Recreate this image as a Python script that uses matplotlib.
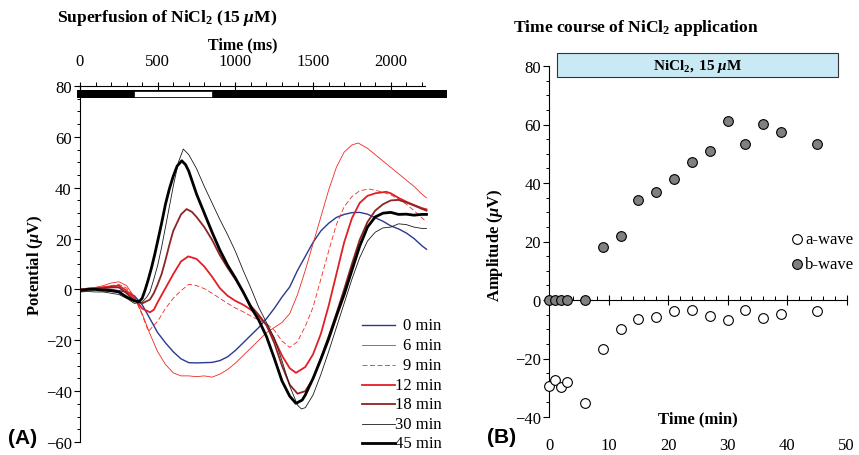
import matplotlib
matplotlib.use('Agg')
import matplotlib.pyplot as plt
from matplotlib.patches import Rectangle
from matplotlib.ticker import MultipleLocator, FixedLocator

plt.rcParams['font.family'] = ['Liberation Serif', 'DejaVu Serif']
plt.rcParams['mathtext.fontset'] = 'custom'
plt.rcParams['mathtext.rm'] = 'Liberation Serif'
plt.rcParams['mathtext.it'] = 'Liberation Serif:italic'
plt.rcParams['mathtext.bf'] = 'Liberation Serif:bold'
plt.rcParams['mathtext.bfit'] = 'Liberation Serif:bold:italic'

# ---------------- Panel A data (time in ms, potential in uV) ----------------
t_0min = [0, 50, 100, 150, 200, 250, 300, 350, 400, 450, 500, 550, 600, 650, 700, 750, 800, 850, 900, 950,
          1000, 1050, 1100, 1150, 1200, 1250, 1300, 1350, 1400, 1450, 1500, 1550, 1600, 1650, 1700, 1750,
          1800, 1850, 1900, 1950, 2000, 2050, 2100, 2150, 2200, 2230]
v_0min = [0, 0.3, 0.5, 0.3, 0, -0.5, -1, -2.5, -6, -11.5, -17, -21, -24.5, -27.3, -28.8, -28.9, -28.8, -28.7, -28, -26.5,
          -24, -21, -18, -15, -11.5, -7.5, -3, 1, 7.5, 13, 18.5, 23, 26, 28.3, 29.5, 30.2,
          30.3, 29.6, 28.2, 26.8, 25, 23.8, 22.2, 20, 17.2, 15.8]

t_6min = [0, 50, 100, 150, 200, 250, 300, 350, 400, 450, 500, 550, 600, 650, 700, 750, 800, 850, 900, 950,
          1000, 1050, 1100, 1150, 1200, 1250, 1300, 1350, 1400, 1450, 1500, 1550, 1600, 1650, 1700, 1750,
          1790, 1850, 1900, 1950, 2000, 2050, 2100, 2150, 2200, 2230]
v_6min = [0, 0.5, 0.8, 1.5, 2.5, 3, 1.5, -3, -9.5, -17.5, -24.5, -29.5, -32.8, -34, -34, -34.3, -34, -34.5, -33.3, -31.5,
          -29, -26, -23, -20, -17, -15, -13, -9.5, -2, 7.5, 18, 28.5, 39, 48, 54, 56.8,
          57.6, 55.5, 53, 50.5, 48, 45.5, 43, 40.5, 37.5, 36]

t_9min = [0, 50, 100, 150, 200, 250, 300, 350, 400, 440, 500, 550, 600, 650, 700, 750, 800, 850, 900, 950,
          1000, 1050, 1100, 1150, 1200, 1250, 1300, 1350, 1400, 1450, 1500, 1550, 1600, 1650, 1700, 1750,
          1800, 1860, 1900, 1950, 2000, 2050, 2100, 2150, 2200, 2230]
v_9min = [0, 0.3, 0.5, 1, 1.5, 2, 0.5, -3, -10, -16.5, -12.5, -7.5, -3.5, -0.5, 2, 1.5, 0.3, -1.5, -3.5, -5.5,
          -7.3, -8.8, -10.5, -12, -13.5, -16, -20.3, -22.8, -20.5, -14.5, -7, 4, 15, 25.5, 32.5, 36.5,
          38.8, 39.5, 39, 38.2, 37.2, 35.5, 33.5, 31, 28.2, 26.5]

t_12min = [0, 50, 100, 150, 200, 250, 300, 350, 400, 450, 475, 500, 550, 600, 650, 697, 750, 800, 850, 900, 950,
           1000, 1050, 1100, 1150, 1200, 1250, 1300, 1350, 1390, 1450, 1500, 1550, 1600, 1650, 1700, 1750,
           1800, 1850, 1900, 1970, 2000, 2050, 2100, 2150, 2200, 2230]
v_12min = [0, 0.3, 0.5, 0.8, 1.2, 1.5, -0.5, -3.5, -7.5, -9, -8, -5, 0.5, 6, 11, 13, 12, 9, 5, 0.5, -2.5,
           -4.5, -6, -8, -10.5, -14, -19.5, -26, -31, -32.8, -30.5, -25.5, -17.5, -6.5, 6, 18.5, 28,
           34, 36.8, 37.8, 38.4, 37.8, 36, 34.5, 33.2, 32, 31.5]

t_18min = [0, 50, 100, 150, 200, 250, 300, 350, 400, 450, 475, 500, 525, 550, 575, 600, 650, 686, 720, 750, 800,
           850, 900, 950, 1000, 1050, 1100, 1150, 1200, 1250, 1300, 1350, 1400, 1450, 1500, 1550, 1600, 1650,
           1700, 1750, 1800, 1850, 1900, 1950, 2000, 2050, 2100, 2150, 2200, 2230]
v_18min = [0, 0.2, 0.3, 0.5, 0.8, 0.8, -1.5, -4.5, -5.5, -4, -1.5, 2, 6, 11.5, 17.5, 23, 29.5, 31.6, 30.5, 28.5, 24.5,
           19.5, 13.5, 8.5, 4, -1, -6.5, -10, -14, -21, -30, -37.5, -41, -40, -35, -27, -18.5, -9.5,
           0, 10, 19.5, 26.5, 31, 33.5, 35, 35.2, 34.2, 33, 31.7, 31]

t_30min = [0, 50, 100, 150, 200, 250, 300, 350, 400, 430, 450, 475, 500, 525, 550, 575, 600, 633, 665, 700, 750,
           800, 850, 900, 950, 1000, 1050, 1100, 1150, 1200, 1250, 1300, 1350, 1400, 1425, 1450, 1500, 1550,
           1600, 1650, 1700, 1750, 1800, 1850, 1900, 1950, 2000, 2050, 2100, 2150, 2200, 2230]
v_30min = [-1, -0.8, -1, -1, -1.5, -2, -3.5, -5.5, -5, -3, -1, 4, 9.5, 16.5, 24.5, 32.5, 40.5, 50, 55.2, 53, 47.5,
           40.5, 34, 27.5, 21.5, 15, 7.5, 0.5, -7, -13, -19, -28, -38, -45.5, -47, -46.5, -41.5, -33.5,
           -24.5, -15, -5.5, 4, 12.5, 19, 22.5, 24.2, 24.5, 25.8, 25.5, 24.5, 24, 24]

t_45min = [0, 50, 100, 150, 200, 250, 300, 350, 380, 400, 420, 440, 460, 480, 500, 525, 550, 575, 600, 625, 655,
           680, 700, 750, 800, 850, 900, 950, 1000, 1050, 1100, 1150, 1200, 1250, 1300, 1350, 1390, 1430, 1450,
           1500, 1550, 1600, 1650, 1700, 1750, 1800, 1850, 1900, 1950, 2000, 2050, 2100, 2150, 2200, 2230]
v_45min = [-0.5, 0, 0, -0.3, -0.5, -1, -3, -4.5, -4.8, -3.5, 0, 4, 8.5, 13.5, 19, 26, 33.5, 39.5, 44.5, 48.5, 50.6,
           49, 46.5, 37.5, 30, 22.5, 15.5, 9.5, 4.5, -1, -7, -12, -18.5, -27, -36, -42, -44.8, -43.5, -41.5,
           -35, -27.5, -19.5, -10.5, -2, 7.5, 17, 24.5, 28.5, 30, 30.3, 29.5, 29.6, 29.2, 29.5, 29.5]

trace_labels = ['0 min', '6 min', '9 min', '12 min', '18 min', '30 min', '45 min']
stim_on, stim_off = 350, 850

# ---------------- Panel B data ----------------
time_min = [0, 1, 2, 3, 6, 9, 12, 15, 18, 21, 24, 27, 30, 33, 36, 39, 45]
a_wave = [-29.3, -27.2, -29.9, -27.9, -35.2, -16.8, -9.9, -6.5, -5.7, -3.9, -3.3, -5.5, -6.7, -3.3, -6.0, -4.9, -3.9]
b_wave = [0, 0, 0, 0, 0, 18.0, 22.0, 34.1, 37.0, 41.4, 47.1, 50.8, 61.2, 53.4, 60.3, 57.5, 53.4]

# ---------------- Figure ----------------
W, H = 859, 456
fig = plt.figure(figsize=(W / 100, H / 100), dpi=100)

# ---- Panel A ----
axA = fig.add_axes([80 / W, 1 - 443 / H, 367 / W, 356 / H])
axA.set_xlim(0, 2362)
axA.set_ylim(-60, 80)
for s in ['right', 'bottom']:
    axA.spines[s].set_visible(False)
axA.spines['top'].set_bounds(0, 2220)
axA.spines['top'].set_linewidth(0.8)
axA.spines['left'].set_linewidth(0.8)
axA.xaxis.tick_top()
axA.xaxis.set_major_locator(FixedLocator([0, 500, 1000, 1500, 2000]))
axA.xaxis.set_minor_locator(FixedLocator(list(range(0, 2201, 100))))
axA.tick_params(axis='x', which='major', direction='inout', length=6, width=0.8, labelsize=12, pad=9)
axA.tick_params(axis='x', which='minor', direction='out', length=3, width=0.7)
axA.yaxis.set_major_locator(MultipleLocator(20))
axA.yaxis.set_minor_locator(MultipleLocator(5))
axA.tick_params(axis='y', which='major', direction='out', length=4, width=0.8, labelsize=12, pad=2)
axA.tick_params(axis='y', which='minor', direction='out', length=2.2, width=0.7)

styles = [
    dict(color='#2B3990', lw=1.0, ls='-'),
    dict(color='#EE2A24', lw=0.6, ls='-'),
    dict(color='#EE2A24', lw=0.6, ls=(0, (6, 3))),
    dict(color='#E31E24', lw=1.3, ls='-'),
    dict(color='#8E2424', lw=1.3, ls='-'),
    dict(color='#1A1A1A', lw=0.6, ls='-'),
    dict(color='#000000', lw=2.0, ls='-'),
]
series = [(t_0min, v_0min), (t_6min, v_6min), (t_9min, v_9min), (t_12min, v_12min),
          (t_18min, v_18min), (t_30min, v_30min), (t_45min, v_45min)]
for (tt, vv), st in zip(series, styles):
    axA.plot(tt, vv, solid_joinstyle='round', **st)

# stimulus bar
axA.add_patch(Rectangle((-17, 75.3), 2362 + 17, 3.3, facecolor='black', edgecolor='none', clip_on=False, zorder=4))
axA.add_patch(Rectangle((stim_on, 75.8), stim_off - stim_on, 2.2, facecolor='white', edgecolor='black',
                        lw=0.5, clip_on=False, zorder=5))

# legend (manual)
rows_y = [0.329, 0.272, 0.216, 0.160, 0.107, 0.051, -0.003]
for lab, st, yy in zip(trace_labels, styles, rows_y):
    axA.plot([0.768, 0.858], [yy, yy], transform=axA.transAxes, clip_on=False, **st)
    axA.text(0.985, yy, lab, transform=axA.transAxes, ha='right', va='center', fontsize=12)

fig.text(57 / W, 1 - 18 / H, r'$\mathbf{Superfusion\ of\ NiCl_2\ (15\ }\mathbfit{\mu}\mathbf{M)}$',
         fontsize=12.6, ha='left', va='center')
fig.text(243 / W, 1 - 45 / H, 'Time (ms)', fontsize=11.5, fontweight='bold', ha='center', va='center')
fig.text(35 / W, 1 - 265 / H, r'$\mathbf{Potential\ (}\mathbfit{\mu}\mathbf{V)}$', fontsize=12,
         rotation=90, ha='center', va='center')
fig.text(8 / W, 1 - 439 / H, '(A)', fontfamily='Liberation Sans', fontweight='bold', fontsize=15,
         ha='left', va='center')

# ---- Panel B ----
axB = fig.add_axes([549.3 / W, 1 - 418 / H, 297.2 / W, 351 / H])
axB.set_xlim(0, 50)
axB.set_ylim(-40, 80)
axB.spines['top'].set_visible(False)
axB.spines['right'].set_visible(False)
axB.spines['bottom'].set_position(('data', 0))
axB.spines['bottom'].set_linewidth(0.8)
axB.spines['left'].set_linewidth(0.8)
axB.xaxis.set_major_locator(MultipleLocator(10))
axB.xaxis.set_minor_locator(MultipleLocator(2))
axB.tick_params(axis='x', which='major', direction='inout', length=7, width=0.8, labelbottom=False)
axB.tick_params(axis='x', which='minor', direction='in', length=3, width=0.7)
axB.yaxis.set_major_locator(MultipleLocator(20))
axB.yaxis.set_minor_locator(MultipleLocator(5))
axB.tick_params(axis='y', which='major', direction='out', length=4, width=0.8, labelsize=12, pad=2)
axB.tick_params(axis='y', which='minor', direction='out', length=2.2, width=0.7)

sec = axB.secondary_xaxis('bottom')
sec.spines['bottom'].set_visible(False)
sec.set_xticks([0, 10, 20, 30, 40, 50])
sec.tick_params(length=0, labelsize=12, pad=14.5)

axB.plot(time_min, a_wave, 'o', mfc='white', mec='black', ms=7, mew=0.8, clip_on=False, zorder=5)
axB.plot(time_min, b_wave, 'o', mfc='#808080', mec='black', ms=7, mew=0.8, clip_on=False, zorder=5)

axB.add_patch(Rectangle((1.3, 76.2), 47.2, 8.2, facecolor='#C9E9F4', edgecolor='#333333', lw=0.8,
                        clip_on=False, zorder=4))
axB.text(24.9, 80.3, r'$\mathbf{NiCl_2,\ 15\ }\mathbfit{\mu}\mathbf{M}$', fontsize=11, ha='center',
         va='center', zorder=6)

# legend (manual)
axB.plot([41.6], [20.9], 'o', mfc='white', mec='black', ms=7, mew=0.8, clip_on=False)
axB.plot([41.6], [12.3], 'o', mfc='#808080', mec='black', ms=7, mew=0.8, clip_on=False)
axB.text(43.0, 20.9, 'a-wave', fontsize=12, ha='left', va='center')
axB.text(43.0, 12.3, 'b-wave', fontsize=12, ha='left', va='center')

axB.text(25, -40.5, 'Time (min)', fontsize=12, fontweight='bold', ha='center', va='center')

fig.text(513 / W, 1 - 28 / H, r'$\mathbf{Time\ course\ of\ NiCl_2\ application}$', fontsize=12.6,
         ha='left', va='center')
fig.text(495 / W, 1 - 245 / H, r'$\mathbf{Amplitude\ (}\mathbfit{\mu}\mathbf{V)}$', fontsize=12,
         rotation=90, ha='center', va='center')
fig.text(487 / W, 1 - 438 / H, '(B)', fontfamily='Liberation Sans', fontweight='bold', fontsize=15,
         ha='left', va='center')

fig.savefig('out.png', dpi=100)
